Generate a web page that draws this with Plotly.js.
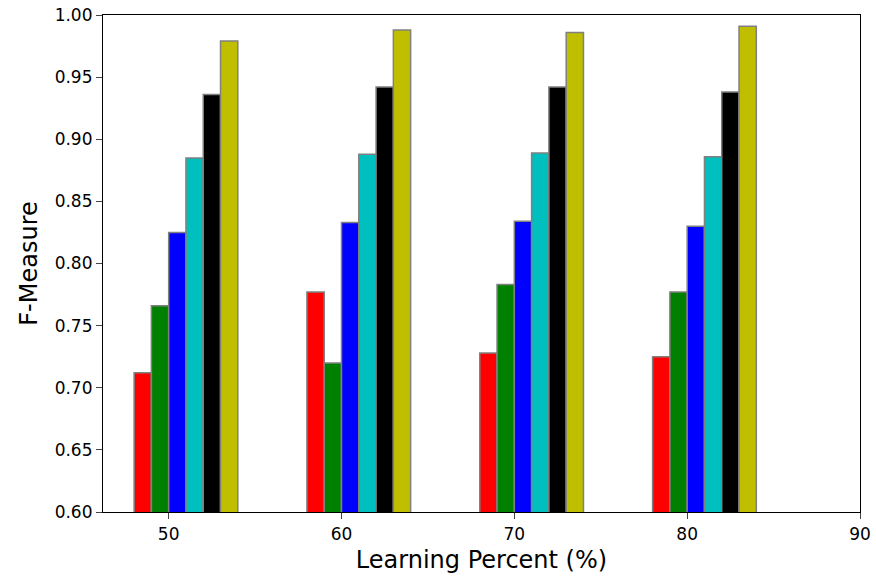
<!DOCTYPE html>
<html>
<head>
<script src="https://cdn.plot.ly/plotly-3.0.1.min.js"></script>
<style>body{margin:0}#chart{width:876px;height:588px}</style>
</head>
<body>
<div id="chart"></div>
<script>
var categories = [50, 60, 70, 80];
var s1 = [0.712, 0.777, 0.728, 0.725];
var s2 = [0.766, 0.720, 0.783, 0.777];
var s3 = [0.825, 0.833, 0.834, 0.830];
var s4 = [0.885, 0.888, 0.889, 0.886];
var s5 = [0.936, 0.942, 0.942, 0.938];
var s6 = [0.979, 0.988, 0.986, 0.991];
var series = [s1, s2, s3, s4, s5, s6];
var colors = ['#ff0000', '#008000', '#0000ff', '#00bfbf', '#000000', '#bfbf00'];

var data = series.map(function(vals, i) {
    return {
        x: categories,
        y: vals,
        type: 'bar',
        width: 1,
        offset: -2 + i,
        marker: {color: colors[i], line: {color: 'grey', width: 1.5}},
        showlegend: false
    };
});

var layout = {
    barmode: 'overlay',
    margin: {l: 103, r: 16, t: 15, b: 76},
    paper_bgcolor: 'white',
    plot_bgcolor: 'white',
    font: {family: 'DejaVu Sans', color: 'black', size: 17},
    xaxis: {
        range: [46.2, 90], tickvals: [50, 60, 70, 80, 90],
        showline: true, mirror: true, linecolor: 'black', linewidth: 1.2,
        ticks: 'outside', ticklen: 6, showgrid: false, zeroline: false,
        title: {text: 'Learning Percent (%)', font: {size: 24}, standoff: 8}
    },
    yaxis: {
        range: [0.6, 1.0], dtick: 0.05, tickformat: '.2f',
        showline: true, mirror: true, linecolor: 'black', linewidth: 1.2,
        ticks: 'outside', ticklen: 6, showgrid: false, zeroline: false,
        title: {text: 'F-Measure', font: {size: 24}, standoff: 10}
    }
};
Plotly.newPlot('chart', data, layout, {displayModeBar: false});
</script>
</body>
</html>
